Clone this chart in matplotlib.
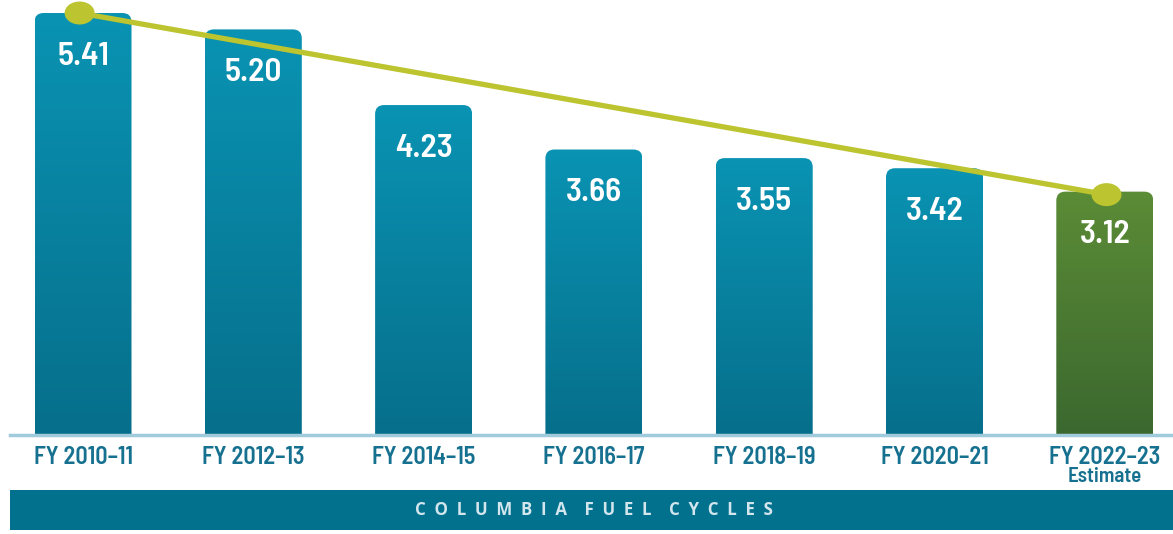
import matplotlib
matplotlib.use("Agg")
import matplotlib.pyplot as plt
import numpy as np
from matplotlib.patches import FancyBboxPatch, Ellipse, Rectangle
from matplotlib.colors import LinearSegmentedColormap

categories = ["FY 2010–11", "FY 2012–13", "FY 2014–15", "FY 2016–17",
              "FY 2018–19", "FY 2020–21", "FY 2022–23"]
category_notes = ["", "", "", "", "", "", "Estimate"]
values = [5.41, 5.20, 4.23, 3.66, 3.55, 3.42, 3.12]
value_labels = ["5.41", "5.20", "4.23", "3.66", "3.55", "3.42", "3.12"]
banner_text = "COLUMBIA FUEL CYCLES"

W, H = 1173, 534
fig = plt.figure(figsize=(W / 100, H / 100), dpi=100)
fig.patch.set_facecolor("white")

FONT = ["Barlow Semi Condensed", "Barlow Condensed", "Roboto Condensed", "DejaVu Sans"]

ax_left_px, ax_right_px = 10, 1173
base_px, top_px = 435, 0
ax = fig.add_axes([ax_left_px / W, (H - base_px) / H,
                   (ax_right_px - ax_left_px) / W, (base_px - top_px) / H])
ax.set_facecolor("none")
spacing = 170.3
c0 = 83
px_per_unit = 78.0
xlim = ((ax_left_px - c0) / spacing, (ax_right_px - c0) / spacing)
ylim = (0, (base_px - top_px) / px_per_unit)
ax.axis("off")

x = np.arange(len(values))
bw = 97 / spacing
bars = ax.bar(x, values, width=bw, color="none", edgecolor="none")

blue_cmap = LinearSegmentedColormap.from_list("b", ["#066f8b", "#0a93b3"])
green_cmap = LinearSegmentedColormap.from_list("g", ["#3b682f", "#5b8c36"])

rx = 9 / spacing
ry = 9 / px_per_unit
for i, b in enumerate(bars):
    x0 = b.get_x()
    w = b.get_width()
    h = b.get_height()
    patch = FancyBboxPatch((x0 + rx, -0.5), w - 2 * rx, h + 0.5 - ry,
                           boxstyle=f"round,pad={rx},rounding_size={rx}",
                           mutation_aspect=ry / rx,
                           facecolor="none", edgecolor="none")
    ax.add_patch(patch)
    cmap = green_cmap if i == len(bars) - 1 else blue_cmap
    grad = np.linspace(0, 1, 256).reshape(-1, 1)
    im = ax.imshow(grad, extent=(x0, x0 + w, 0, h), origin="lower",
                   cmap=cmap, aspect="auto", zorder=2, interpolation="bicubic")
    im.set_clip_path(patch)
    ax.text(x0 + w / 2, h - 43 / px_per_unit, value_labels[i], ha="center",
            va="center", color="white", fontsize=24, fontweight="semibold",
            family=FONT, zorder=4)

ax.set_xlim(*xlim)
ax.set_ylim(*ylim)

ax.axhline(0, color="#9fcbdc", lw=2.5, zorder=3, clip_on=False)

lx = [x[0] - 0.02, x[-1] + 0.01]
ly = [values[0], values[-1] - 3 / px_per_unit]
ax.plot(lx, ly, color="#bcc42f", lw=3.8, zorder=5, clip_on=False,
        solid_capstyle="round")
for xx, yy in zip(lx, ly):
    ax.add_patch(Ellipse((xx, yy), 30 / spacing, 23 / px_per_unit,
                         facecolor="#bcc42f", edgecolor="none", zorder=6,
                         clip_on=False))

for i, c in enumerate(categories):
    ax.text(x[i], -22 / px_per_unit, c, ha="center", va="center",
            color="#16708f", fontsize=17.5, fontweight="semibold", family=FONT,
            clip_on=False)
    if category_notes[i]:
        ax.text(x[i], -42 / px_per_unit, category_notes[i], ha="center",
                va="center", color="#16708f", fontsize=15, fontweight="semibold",
                family=FONT, clip_on=False)

fig.patches.append(Rectangle((10 / W, (H - 530) / H), (1173 - 10) / W, 40 / H,
                             transform=fig.transFigure, facecolor="#01718e",
                             edgecolor="none", zorder=0))
spaced = "    ".join("  ".join(wd) for wd in banner_text.split(" "))
fig.text(594 / W, (H - 510) / H, spaced, ha="center", va="center",
         color="#d4e6ed", fontsize=12.2, fontweight="bold",
         family=["Open Sans", "DejaVu Sans"])

fig.savefig("out.png", dpi=100, facecolor="white")
